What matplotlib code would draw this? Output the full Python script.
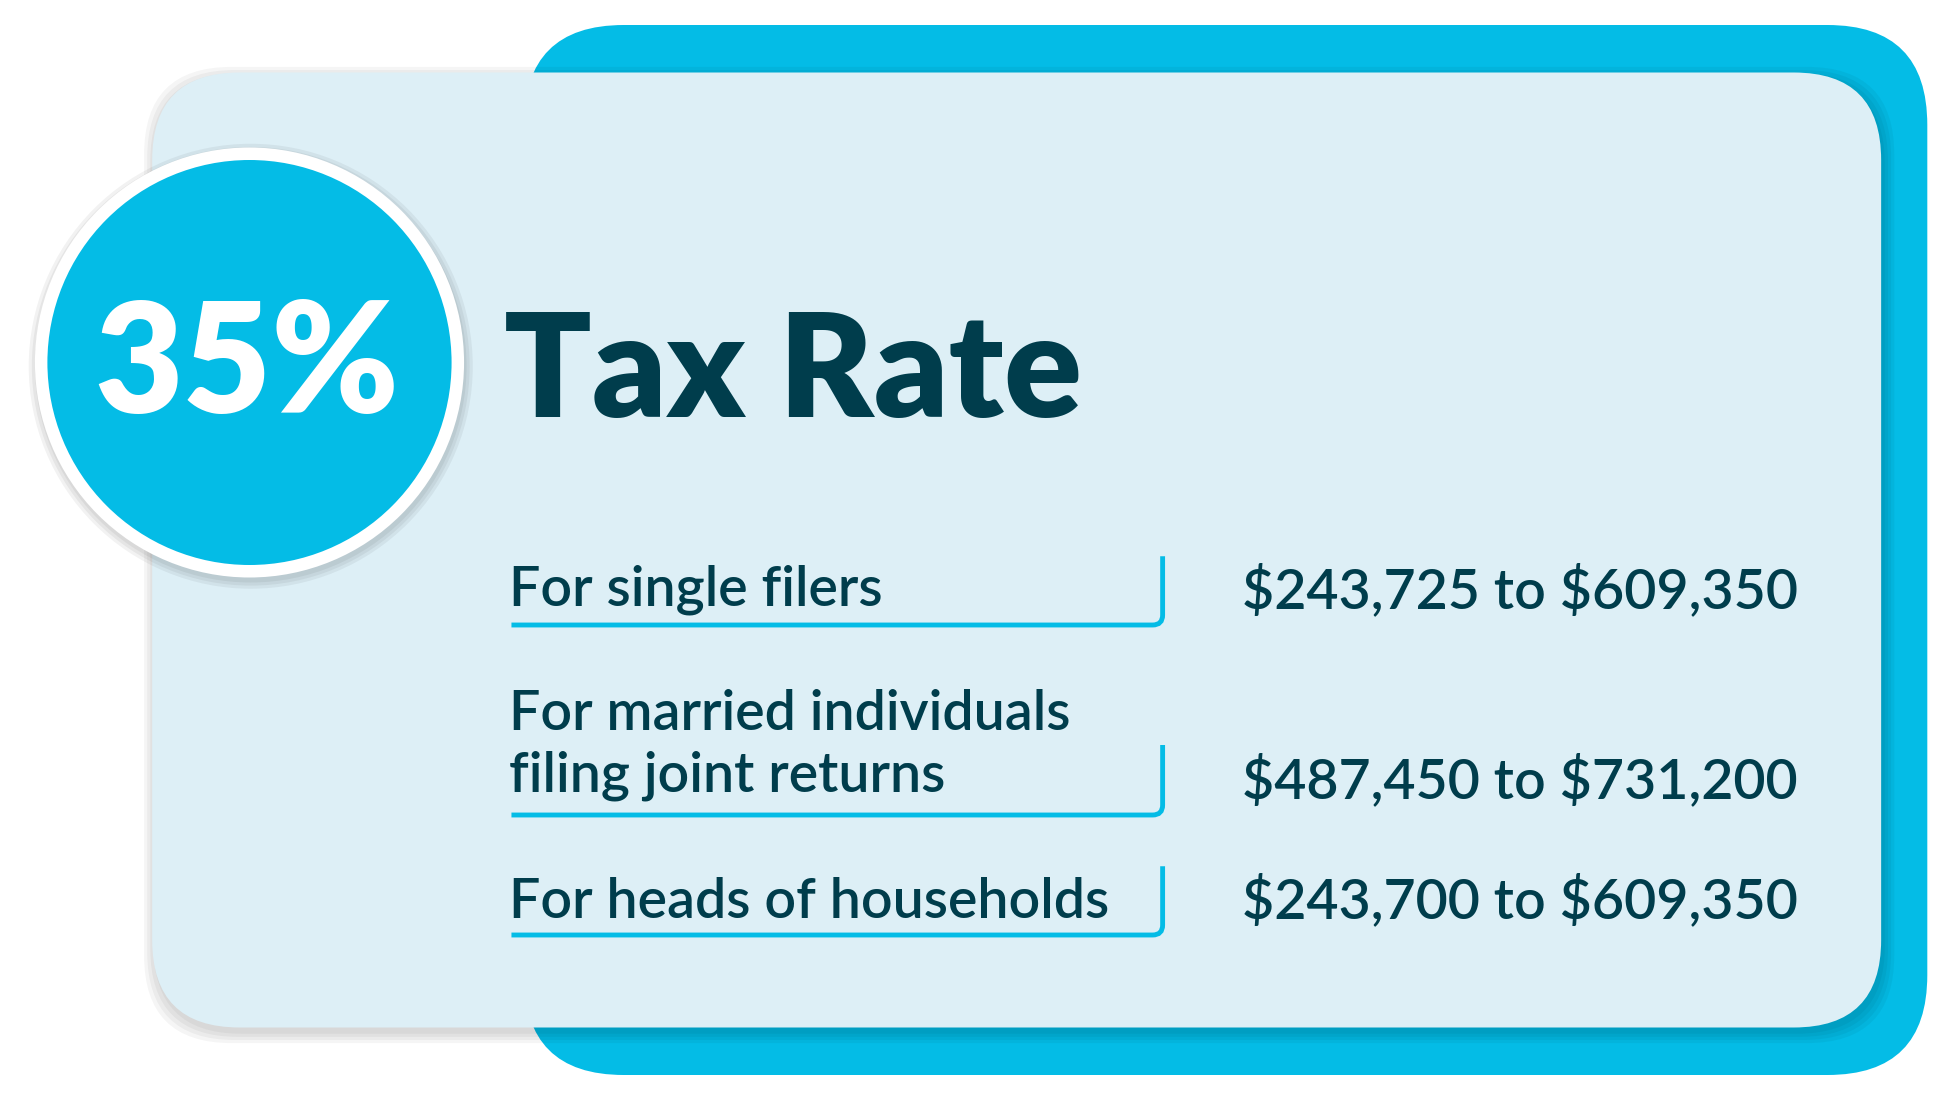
import matplotlib
matplotlib.use("Agg")
import matplotlib.pyplot as plt
from matplotlib.patches import FancyBboxPatch, Circle
from matplotlib.path import Path
from matplotlib.patches import PathPatch

rate_label = "35%"
title = "Tax Rate"
categories = ["For single filers", "For married individuals\nfiling joint returns", "For heads of households"]
ranges = ["\\$243,725 to \\$609,350", "\\$487,450 to \\$731,200", "\\$243,700 to \\$609,350"]

CYAN = "#04BCE6"
DARK = "#003D4C"
CARD = "#DDEFF6"

fig = plt.figure(figsize=(19.56, 11), dpi=100)
ax = fig.add_axes([0, 0, 1, 1])
ax.set_xlim(0, 1568); ax.set_ylim(880, 0); ax.axis("off")

ax.add_patch(FancyBboxPatch((420+80, 20+80), 1125-160, 840-160,
             boxstyle="round,pad=80", fc=CYAN, ec="none", zorder=1))
for i in range(4):
    d = 1 + i*2.5
    ax.add_patch(FancyBboxPatch((122+70-d+2, 58+70-d+4), 1386-140+2*d, 764-140+2*d,
                 boxstyle="round,pad=70", fc="black", ec="none", alpha=0.04, zorder=2))
ax.add_patch(FancyBboxPatch((122+70, 58+70), 1386-140, 764-140,
             boxstyle="round,pad=70", fc=CARD, ec="none", zorder=3))

for i in range(3):
    ax.add_patch(Circle((201, 293), 172+1+i*2.5, fc="black", alpha=0.05, ec="none", zorder=4))
ax.add_patch(Circle((200, 290), 172, fc="white", ec="none", zorder=5))
ax.add_patch(Circle((200, 290), 162, fc=CYAN, ec="none", zorder=6))
ax.text(198, 294, rate_label, color="white", fontsize=110, fontweight="heavy",
        ha="center", va="center", family="Lato", zorder=7)
ax.text(404, 300, title, color=DARK, fontsize=104, fontweight="heavy",
        ha="left", va="center", family="Lato", zorder=7)

rows_y = [500, 652, 748]
vert_top = [445, 596, 693]
text_y = [472, 596, 722]
for cat, rng, ly, vt, ty in zip(categories, ranges, rows_y, vert_top, text_y):
    r = 8
    verts = [(410, ly), (932-r, ly), (932, ly), (932, ly-r), (932, vt)]
    codes = [Path.MOVETO, Path.LINETO, Path.CURVE3, Path.CURVE3, Path.LINETO]
    ax.add_patch(PathPatch(Path(verts, codes), fc="none", ec=CYAN, lw=3.5, zorder=7))
    ax.text(408, ty, cat, color=DARK, fontsize=40, fontweight="semibold", family="Lato",
            ha="left", va="center", linespacing=1.28, zorder=8)
    ax.text(996, ly - 28, rng, color=DARK, fontsize=40, fontweight="semibold", family="Lato",
            ha="left", va="center", zorder=8)

fig.savefig("out.png", dpi=100)
